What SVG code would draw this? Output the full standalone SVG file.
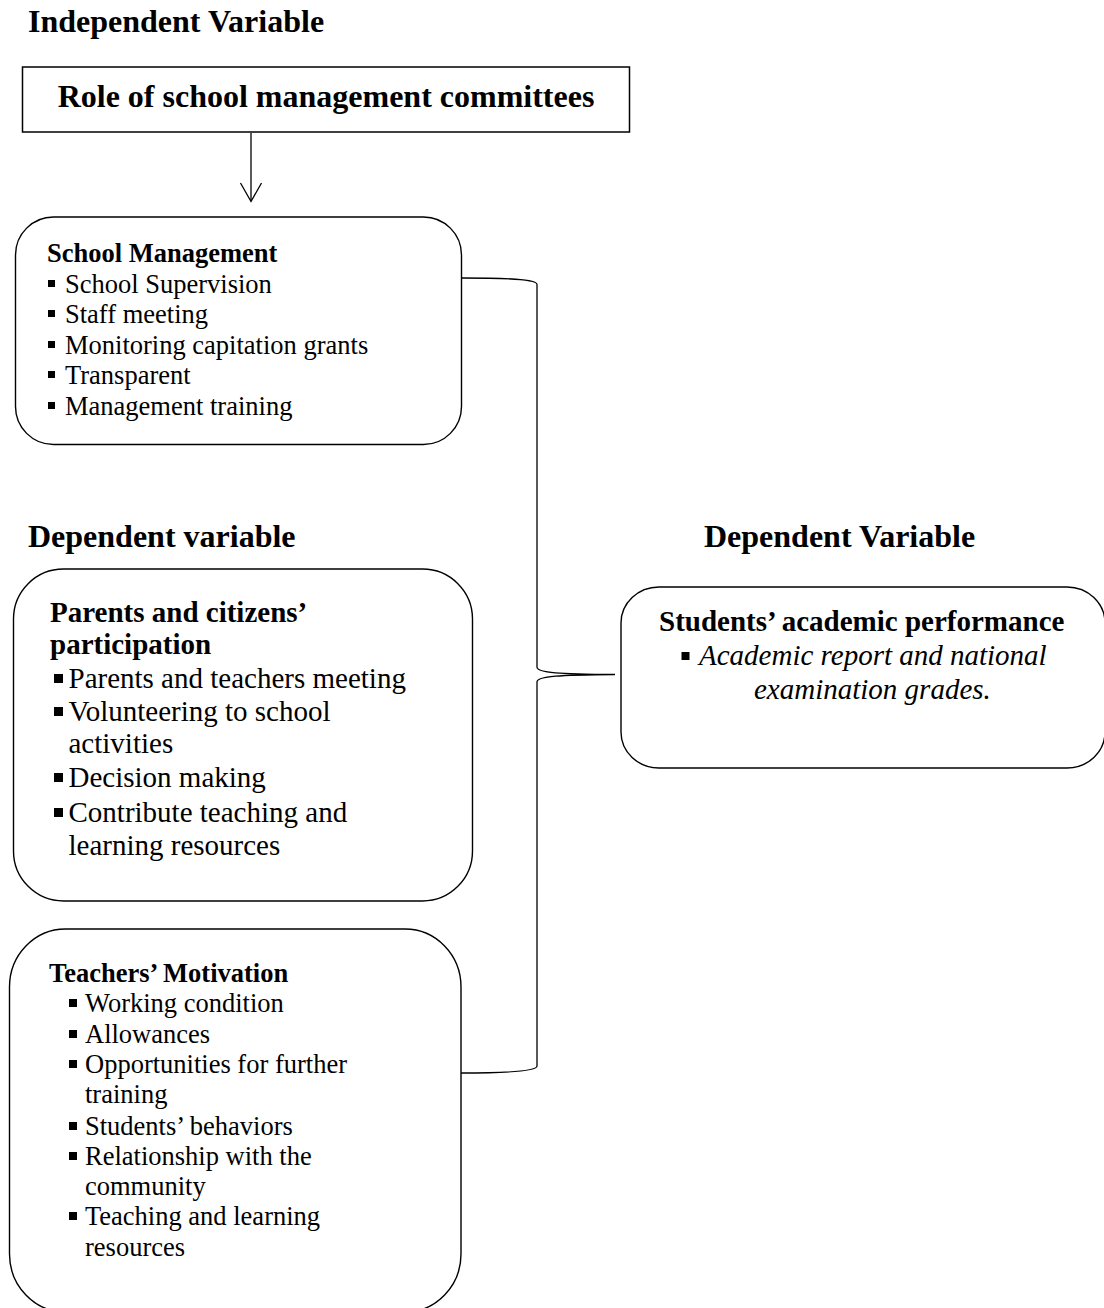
<svg xmlns="http://www.w3.org/2000/svg" xmlns:xlink="http://www.w3.org/1999/xlink" width="1104" height="1308" viewBox="0 0 1104 1308">
<style>
text{font-family:"Liberation Serif","Times New Roman",serif;fill:#000}
.h{font-size:32px;font-weight:bold}
.b{font-weight:bold}
.s26{font-size:26.5px}
.s29{font-size:29px}
.i{font-style:italic}
.box{fill:#fff;stroke:#000;stroke-width:1.4}
.con{fill:none;stroke:#000;stroke-width:1.3}
.bul{fill:#000}
</style>
<defs>
<rect id="b7" width="7" height="7" class="bul"/>
<rect id="b9" width="9" height="9" class="bul"/>
<rect id="b8" width="8" height="8" class="bul"/>
</defs>
<rect width="1104" height="1308" fill="#fff"/>

<g id="heading-independent">
<text class="h" x="28" y="32">Independent Variable</text>
</g>
<g id="heading-dependent-left">
<text class="h" x="28" y="547">Dependent variable</text>
</g>
<g id="heading-dependent-right">
<text class="h" x="704" y="547">Dependent Variable</text>
</g>

<g id="node-role">
<rect class="box" x="22.5" y="67" width="607" height="65" style="stroke-width:1.5"/>
<text class="h" x="326" y="107" text-anchor="middle">Role of school management committees</text>
</g>

<g id="node-school-management">
<rect class="box" x="15.5" y="217" width="446" height="227.5" rx="38" ry="38"/>
<text class="s26 b" x="47" y="262">School Management</text>
<use xlink:href="#b7" x="48" y="280"/><text class="s26" x="65" y="293">School Supervision</text>
<use xlink:href="#b7" x="48" y="310"/><text class="s26" x="65" y="323">Staff meeting</text>
<use xlink:href="#b7" x="48" y="341"/><text class="s26" x="65" y="354">Monitoring capitation grants</text>
<use xlink:href="#b7" x="48" y="371"/><text class="s26" x="65" y="384">Transparent</text>
<use xlink:href="#b7" x="48" y="402"/><text class="s26" x="65" y="415">Management training</text>
</g>

<g id="node-parents">
<rect class="box" x="13.5" y="569" width="459" height="332" rx="50" ry="50"/>
<text class="s29 b" x="50" y="622">Parents and citizens’</text>
<text class="s29 b" x="50" y="654">participation</text>
<use xlink:href="#b9" x="54" y="674"/><text class="s29" x="68.5" y="688">Parents and teachers meeting</text>
<use xlink:href="#b9" x="54" y="707"/><text class="s29" x="68.5" y="721">Volunteering to school</text>
<text class="s29" x="68.5" y="753">activities</text>
<use xlink:href="#b9" x="54" y="773"/><text class="s29" x="68.5" y="787">Decision making</text>
<use xlink:href="#b9" x="54" y="808"/><text class="s29" x="68.5" y="822">Contribute teaching and</text>
<text class="s29" x="68.5" y="855">learning resources</text>
</g>

<g id="node-teachers">
<rect class="box" x="9.5" y="929" width="451.5" height="383" rx="56" ry="58"/>
<text class="s26 b" x="49" y="982">Teachers’ Motivation</text>
<use xlink:href="#b8" x="69" y="999"/><text class="s26" x="85" y="1012">Working condition</text>
<use xlink:href="#b8" x="69" y="1030"/><text class="s26" x="85" y="1043">Allowances</text>
<use xlink:href="#b8" x="69" y="1060"/><text class="s26" x="85" y="1073">Opportunities for further</text>
<text class="s26" x="85" y="1103">training</text>
<use xlink:href="#b8" x="69" y="1122"/><text class="s26" x="85" y="1135">Students’ behaviors</text>
<use xlink:href="#b8" x="69" y="1152"/><text class="s26" x="85" y="1165">Relationship with the</text>
<text class="s26" x="85" y="1195">community</text>
<use xlink:href="#b8" x="69" y="1212"/><text class="s26" x="85" y="1225">Teaching and learning</text>
<text class="s26" x="85" y="1256">resources</text>
</g>

<g id="node-students">
<rect class="box" x="621" y="587" width="484" height="181" rx="38" ry="36"/>
<text class="s29 b" x="659" y="631">Students’ academic performance</text>
<use xlink:href="#b8" x="681.5" y="652"/><text class="s29 i" x="699" y="665">Academic report and national</text>
<text class="s29 i" x="754" y="699">examination grades.</text>
</g>

<g id="connectors">
<line class="con" x1="251" y1="133" x2="251" y2="201"/>
<polyline class="con" points="240.5,183 251,201.5 261.5,183"/>
<path class="con" d="M461.5,278 C505,278 537,279 537,284.5 L537,667 C537,673 560,674 615,674.5 C560,675 537,676 537,682 L537,1066 C537,1071 505,1073 461,1073"/>
</g>
</svg>
